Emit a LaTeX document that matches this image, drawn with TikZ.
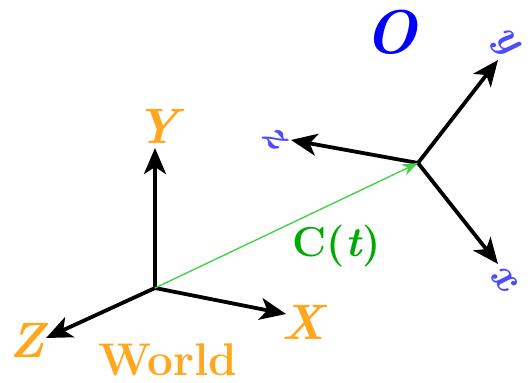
\documentclass[tikz,border=0pt]{standalone}
\usepackage{xcolor}
\definecolor{WorldOrange}{RGB}{255,168,30}
\definecolor{ObjBlue}{RGB}{0,0,255}
\definecolor{AxisBlue}{RGB}{75,75,255}
\definecolor{PathGreen}{RGB}{0,170,0}
\definecolor{LineGreen}{RGB}{70,210,70}
\usepackage{tikz}
\usetikzlibrary{positioning, arrows.meta}

\tikzset{
  axis/.style={line width=1.9bp, black, -{Stealth[length=13bp, width=11bp, inset=3.5bp]}},
  worldlabel/.style={text=WorldOrange, font=\fontsize{25}{28}\selectfont\bfseries\itshape, inner sep=0pt},
  objlabel/.style={text=AxisBlue, font=\fontsize{21}{24}\selectfont\bfseries\itshape, inner sep=0pt, rotate=-50}
}

\begin{document}
\begin{tikzpicture}[x=0.5bp, y=-0.5bp]
			\useasboundingbox (0,0) rectangle (531,383);
			% Welt / World
			\coordinate (W) at (155,288);
			\coordinate (WX) at (286,314);
			\coordinate (WY) at (155,148);
			\coordinate (WZ) at (46,338);
			\draw[axis] (W) -- (WX);
			\draw[axis] (W) -- (WY);
			\draw[axis] (W) -- (WZ);
			\node[worldlabel] (lX) at (303,322) {X};
			\node[worldlabel] (lY) at (157,126) {Y};
			\node[worldlabel] (lZ) at (27,340) {Z};
			\node[text=WorldOrange, font=\fontsize{23}{26}\selectfont\bfseries, inner sep=0pt] (lW) at (168,360) {World};
			% Objekt / Object
			\coordinate (O) at (418,163);
			\coordinate (Ox) at (498,264);
			\coordinate (Oy) at (498,60);
			\coordinate (Oz) at (291,140);
			\draw[axis] (O) -- (Ox);
			\draw[axis] (O) -- (Oy);
			\draw[axis] (O) -- (Oz);
			\node[objlabel] (lx) at (503,279) {x};
			\node[objlabel] (ly) at (504,43) {y};
			\node[objlabel] (lz) at (274,137) {z};
			\node[text=ObjBlue, font=\fontsize{31}{34}\selectfont\bfseries\itshape, inner sep=0pt] (lO) at (391,32) {O};
			% Bahn / Path
			\draw[LineGreen, line width=0.7bp, -{Stealth[length=8bp, width=6bp]}] (W) -- (O);
			\node[text=PathGreen, font=\fontsize{21}{24}\selectfont\bfseries, inner sep=0pt] (lC) at (337,246) {C(\textit{t})};
			\end{tikzpicture}
\end{document}
